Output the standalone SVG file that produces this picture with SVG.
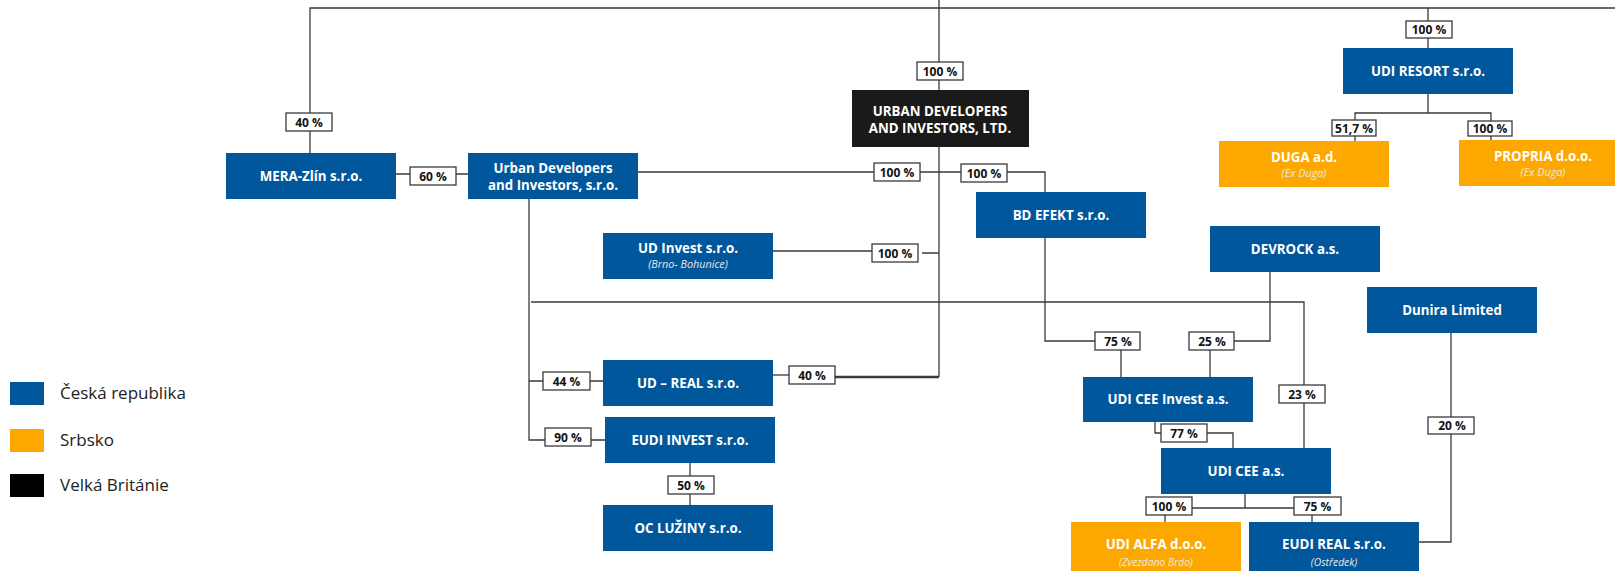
<svg xmlns="http://www.w3.org/2000/svg" width="1615" height="571" viewBox="0 0 1615 571">
<style>
.b{fill:#01579b}
.o{fill:#fda800}
.k{fill:#1a1a1a}
.t{font-family:"Open Sans","Noto Sans",sans-serif;font-weight:700;font-size:13.3px;fill:#fff;text-anchor:middle}
.s{font-family:"Open Sans","Noto Sans",sans-serif;font-style:italic;font-size:10.8px;fill:#e8e8e8;text-anchor:middle}
.c{fill:none;stroke:#3a3a3a;stroke-width:1.3}
.lb rect{fill:#fff;stroke:#3a3a3a;stroke-width:1.3}
.lb text{font-family:"Open Sans","Noto Sans",sans-serif;font-weight:700;font-size:12px;fill:#111;text-anchor:middle}
.lg{font-family:"Open Sans","Noto Sans",sans-serif;font-size:17px;fill:#222}
</style>
<rect width="1615" height="571" fill="#fff"/>
<g id="connectors">
<path class="c" d="M310,153V8H1615"/>
<path class="c" d="M939,0V90"/>
<path class="c" d="M1428,8V48"/>
<path class="c" d="M1428,94V113M1355,141V113H1491V140"/>
<path class="c" d="M396,174H468"/>
<path class="c" d="M638,172H1045V192"/>
<path class="c" d="M939,147V377"/>
<path class="c" d="M773,251H872M922,253H939"/>
<path class="c" d="M531,302H1304V448"/>
<path class="c" d="M529,199V440H605M529,381H603"/>
<path class="c" d="M773,375H789"/>
<path class="c" d="M835,377H939" style="stroke-width:2.4"/>
<path class="c" d="M690,463V505"/>
<path class="c" d="M1045,238V341H1095M1121,350V377"/>
<path class="c" d="M1270,272V341H1234M1210,350V377"/>
<path class="c" d="M1155,422V433H1161M1207,433H1233V448"/>
<path class="c" d="M1245,494V508M1192,508H1294M1165,515V522M1312,515V522"/>
<path class="c" d="M1451,333V542H1419"/>
</g>
<g id="labels" class="lb">
<g id="l-40a"><rect x="286" y="113" width="46" height="18"/><text x="309" y="126.5">40 %</text></g>
<g id="l-100top"><rect x="917" y="62" width="46" height="18"/><text x="940" y="75.5">100 %</text></g>
<g id="l-100resort"><rect x="1406" y="21" width="46" height="17"/><text x="1429" y="34">100 %</text></g>
<g id="l-517"><rect x="1332" y="120" width="44" height="16"/><text x="1354" y="132.5">51,7 %</text></g>
<g id="l-100propria"><rect x="1468" y="121" width="44" height="15"/><text x="1490" y="133">100 %</text></g>
<g id="l-60"><rect x="410" y="167" width="46" height="18"/><text x="433" y="180.5">60 %</text></g>
<g id="l-100ud"><rect x="874" y="163" width="46" height="18"/><text x="897" y="176.5">100 %</text></g>
<g id="l-100bd"><rect x="961" y="164" width="46" height="18"/><text x="984" y="177.5">100 %</text></g>
<g id="l-100inv"><rect x="872" y="244" width="46" height="18"/><text x="895" y="257.5">100 %</text></g>
<g id="l-44"><rect x="543" y="372" width="47" height="18"/><text x="566.5" y="385.5">44 %</text></g>
<g id="l-40b"><rect x="789" y="366" width="46" height="18"/><text x="812" y="379.5">40 %</text></g>
<g id="l-90"><rect x="545" y="428" width="46" height="18"/><text x="568" y="441.5">90 %</text></g>
<g id="l-50"><rect x="668" y="476" width="46" height="18"/><text x="691" y="489.5">50 %</text></g>
<g id="l-75a"><rect x="1095" y="332" width="45" height="18"/><text x="1118" y="345.5">75 %</text></g>
<g id="l-25"><rect x="1189" y="332" width="45" height="18"/><text x="1212" y="345.5">25 %</text></g>
<g id="l-23"><rect x="1279" y="385" width="46" height="18"/><text x="1302" y="398.5">23 %</text></g>
<g id="l-77"><rect x="1161" y="424" width="46" height="18"/><text x="1184" y="437.5">77 %</text></g>
<g id="l-20"><rect x="1428" y="417" width="46" height="17"/><text x="1452" y="430">20 %</text></g>
<g id="l-100alfa"><rect x="1146" y="497" width="46" height="18"/><text x="1169" y="510.5">100 %</text></g>
<g id="l-75b"><rect x="1294" y="497" width="47" height="18"/><text x="1317.5" y="510.5">75 %</text></g>
</g>
<g id="n-mera"><rect class="b" x="226" y="153" width="170" height="46"/><text class="t" x="311" y="181">MERA-Zlín s.r.o.</text></g>
<g id="n-uds"><rect class="b" x="468" y="153" width="170" height="46"/><text class="t" x="553" y="173">Urban Developers</text><text class="t" x="553" y="190">and Investors, s.r.o.</text></g>
<g id="n-ltd"><rect class="k" x="852" y="90" width="177" height="57"/><text class="t" x="940" y="116">URBAN DEVELOPERS</text><text class="t" x="940" y="133">AND INVESTORS, LTD.</text></g>
<g id="n-resort"><rect class="b" x="1343" y="48" width="170" height="46"/><text class="t" x="1428" y="76">UDI RESORT s.r.o.</text></g>
<g id="n-duga"><rect class="o" x="1219" y="141" width="170" height="46"/><text class="t" x="1304" y="162">DUGA a.d.</text><text class="s" x="1304" y="177">(Ex Duga)</text></g>
<g id="n-propria"><rect class="o" x="1459" y="140" width="170" height="46"/><text class="t" x="1543" y="161">PROPRIA d.o.o.</text><text class="s" x="1543" y="176">(Ex Duga)</text></g>
<g id="n-bd"><rect class="b" x="976" y="192" width="170" height="46"/><text class="t" x="1061" y="220">BD EFEKT s.r.o.</text></g>
<g id="n-udinvest"><rect class="b" x="603" y="233" width="170" height="46"/><text class="t" x="688" y="253">UD Invest s.r.o.</text><text class="s" x="688" y="268">(Brno- Bohunice)</text></g>
<g id="n-devrock"><rect class="b" x="1210" y="226" width="170" height="46"/><text class="t" x="1295" y="254">DEVROCK a.s.</text></g>
<g id="n-dunira"><rect class="b" x="1367" y="287" width="170" height="46"/><text class="t" x="1452" y="315">Dunira Limited</text></g>
<g id="n-udreal"><rect class="b" x="603" y="360" width="170" height="46"/><text class="t" x="688" y="388">UD – REAL s.r.o.</text></g>
<g id="n-ceeinv"><rect class="b" x="1083" y="377" width="170" height="45"/><text class="t" x="1168" y="404">UDI CEE Invest a.s.</text></g>
<g id="n-eudiinv"><rect class="b" x="605" y="417" width="170" height="46"/><text class="t" x="690" y="445">EUDI INVEST s.r.o.</text></g>
<g id="n-cee"><rect class="b" x="1161" y="448" width="170" height="46"/><text class="t" x="1246" y="476">UDI CEE a.s.</text></g>
<g id="n-oc"><rect class="b" x="603" y="505" width="170" height="46"/><text class="t" x="688" y="533">OC LUŽINY s.r.o.</text></g>
<g id="n-alfa"><rect class="o" x="1071" y="522" width="170" height="50"/><text class="t" x="1156" y="549">UDI ALFA d.o.o.</text><text class="s" x="1156" y="566" style="font-size:10.3px">(Zvezdano Brdo)</text></g>
<g id="n-eudireal"><rect class="b" x="1249" y="522" width="170" height="50"/><text class="t" x="1334" y="549">EUDI REAL s.r.o.</text><text class="s" x="1334" y="566" style="font-size:10.3px">(Ostředek)</text></g>
<g id="legend">
<rect class="b" x="10" y="382" width="34" height="23"/><text class="lg" x="60" y="399">Česká republika</text>
<rect class="o" x="10" y="429" width="34" height="23"/><text class="lg" x="60" y="446">Srbsko</text>
<rect x="10" y="474" width="34" height="23" fill="#000"/><text class="lg" x="60" y="491">Velká Británie</text>
</g>
</svg>
